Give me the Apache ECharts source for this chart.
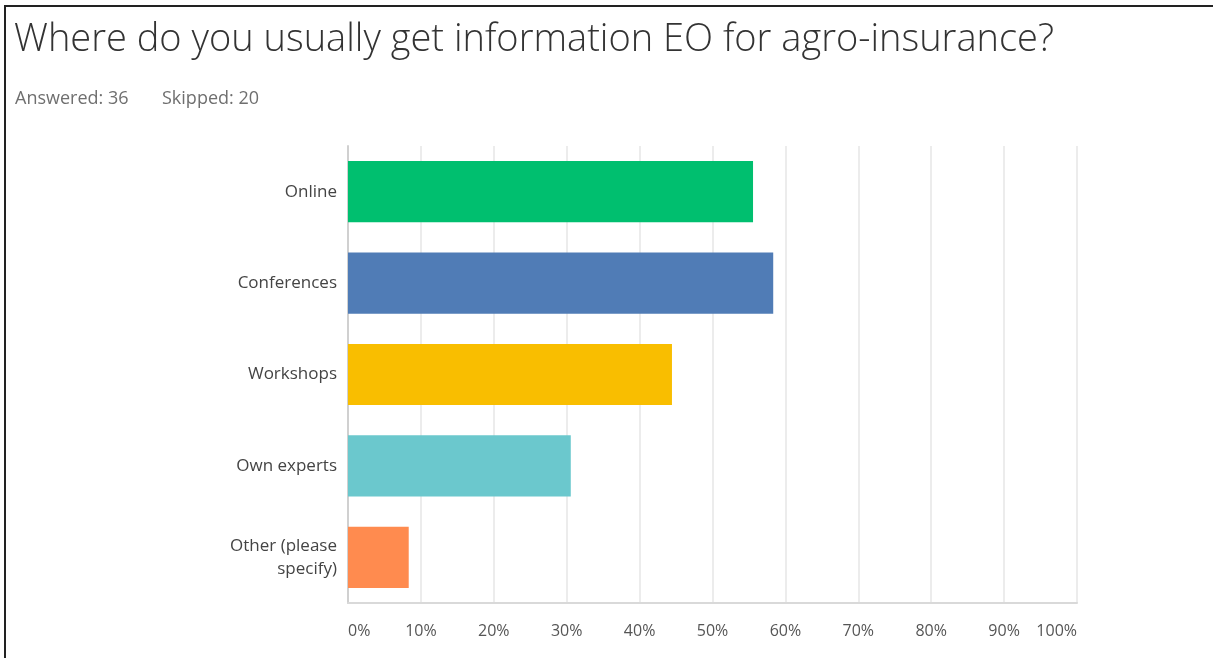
<!DOCTYPE html>
<html lang="en">
<head>
    <meta charset="utf-8" />
    <title>agro-insurance info sources</title>
    <script src="https://cdn.jsdelivr.net/npm/echarts@6/dist/echarts.min.js"></script>
    <style>
        html, body { margin: 0; padding: 0; background: #fff; }
        #chart { position: absolute; left: 0; top: 0; width: 1213px; height: 658px; }
        /* dark frame on top and left like the screenshot */
        #frame { position: absolute; left: 4px; top: 5px; width: 1209px; height: 653px;
                 border-left: 2px solid #222; border-top: 2px solid #222; pointer-events: none; }
    </style>
</head>
<body>
    <div id="chart"></div>
    <div id="frame"></div>
    <script>
        // answers (% of 36 respondents)
        var categories = ['Online', 'Conferences', 'Workshops', 'Own experts', 'Other (please\nspecify)'];
        var percents = [55.56, 58.33, 44.44, 30.56, 8.33];
        var barColors = ['#00bf6f', '#507cb6', '#f9be00', '#6bc8cd', '#ff8b4f'];
        var answered = 36;
        var skipped = 20;

        var myChart = echarts.init(document.getElementById('chart'));
        var option = {
            animation: false,
            title: [
                {
                    text: 'Where do you usually get information EO for agro-insurance?',
                    left: 9, top: 16,
                    textStyle: { fontFamily: 'Open Sans', fontWeight: 300, fontSize: 38, color: '#333' }
                },
                {
                    text: 'Answered: ' + answered,
                    left: 10, top: 85,
                    textStyle: { fontFamily: 'Open Sans', fontWeight: 'normal', fontSize: 18, color: '#6f6f6f' }
                },
                {
                    text: 'Skipped: ' + skipped,
                    left: 157, top: 85,
                    textStyle: { fontFamily: 'Open Sans', fontWeight: 'normal', fontSize: 18, color: '#6f6f6f' }
                }
            ],
            grid: { left: 348, right: 136, top: 146, bottom: 55 },
            xAxis: {
                type: 'value',
                min: 0, max: 100, interval: 10,
                axisLine: { show: true, lineStyle: { color: '#d9d9d9', width: 2 } },
                axisTick: { show: false },
                splitLine: { lineStyle: { color: '#ececec', width: 2 } },
                axisLabel: {
                    formatter: '{value}%',
                    margin: 20,
                    alignMinLabel: 'left',
                    alignMaxLabel: 'right',
                    fontFamily: 'Open Sans', fontSize: 16, color: '#555'
                }
            },
            yAxis: {
                type: 'category',
                inverse: true,
                data: categories,
                axisLine: { show: true, lineStyle: { color: '#d0d0d0', width: 2 } },
                axisTick: { show: false },
                axisLabel: { margin: 11, fontFamily: 'Open Sans', fontSize: 17, color: '#444', lineHeight: 23 }
            },
            series: [{
                type: 'bar',
                data: percents.map(function (v, i) {
                    return { value: v, itemStyle: { color: barColors[i] } };
                }),
                barCategoryGap: '33%'
            }]
        };
        myChart.setOption(option);
    </script>
</body>
</html>
